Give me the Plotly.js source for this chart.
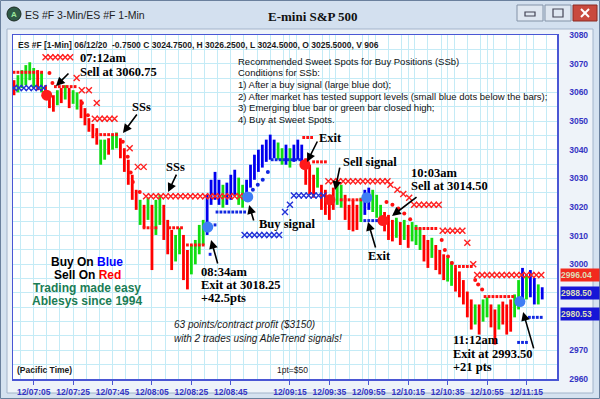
<!DOCTYPE html>
<html><head><meta charset="utf-8">
<script src="https://cdn.plot.ly/plotly-3.0.1.min.js"></script>
<style>html,body{margin:0;padding:0;background:#d5e2f0;}#chart{width:600px;height:399px;}</style>
</head><body><div id="chart"></div>
<script>
// ---- price bars (2-minute bars, minutes since midnight) ----
const barTime = [415,417,419,421,423,425,427,429,431,433,435,437,439,441,443,445,447,449,451,453,455,457,459,461,463,465,467,469,471,473,475,477,479,481,483,485,487,489,491,493,495,497,499,501,503,505,507,509,511,513,515,517,519,521,523,525,527,529,531,533,535,537,539,541,543,545,547,549,551,553,555,557,559,561,563,565,567,569,571,573,575,577,579,581,583,585,587,589,591,593,595,597,599,601,603,605,607,609,611,613,615,617,619,621,623,625,627,629,631,633,635,637,639,641,643,645,647,649,651,653,655,657,659,661,663,665,667,669,671,673,675,677,679,681,683];
const barHigh = [3064.25,3066,3067.75,3069.5,3070.5,3068.5,3067.75,3067,3062.5,3060,
3059,3060.75,3061.5,3062.5,3061.5,3060.75,3060,3057.5,3054.5,3051,
3049,3047.5,3043.5,3043.5,3044,3045.25,3046,3044,3040.5,3036.5,
3031.25,3026,3022.5,3020.75,3023.25,3020.75,3022.5,3024.25,3020.75,3015.5,
3012,3010.25,3012.75,3010.25,3005,3006.75,3008.5,3013.75,3015.5,3024.25,
3029.5,3032.25,3029.5,3027.75,3028.5,3031.25,3033,3030.25,3027.75,3029.5,
3034.75,3038.25,3040,3041.75,3043.5,3045.25,3043.5,3042.5,3040.5,3041.75,
3040.5,3041.75,3043.5,3041.75,3037,3034.75,3031.25,3033.75,3027.75,3026,
3024.25,3026.75,3029.5,3027.75,3024.25,3020.75,3022.5,3020.75,3023.25,3026,
3026.75,3026,3024.25,3020.75,3018.25,3017.25,3015.5,3016.25,3014.75,3015.5,
3013.75,3014.75,3013.75,3012.75,3010.25,3008.5,3009.25,3006.75,3005,3003.5,
3002.25,3001,2998.75,2997.5,2994.5,2990.5,2987.75,2986,2986,2987.75,
2988.5,2986,2984.25,2986,2987,2986,2987.75,2989.5,2994.5,2998.75,
2996.5,2998,2995.25,2993,2992];
const barLow = [3059,3060,3061.5,3062.5,3064.25,3061.5,3060.75,3060,3057.5,3054.5,
3053.25,3055.5,3056.25,3057.5,3054.5,3056,3054,3051,3048.5,3046.25,
3044,3041.75,3034.75,3036.5,3038.25,3040,3040.5,3037,3032.25,3027.75,
3022.5,3019,3013.75,3012.75,3015.5,2998,3010.25,3013.75,3008.5,3003.5,
2998,3001,3003.5,2994.5,2991.25,2996.5,3000,3003.5,3006.75,3010.25,
3020.75,3022.5,3020.75,3019.75,3020.75,3022.5,3024.25,3020.75,3019.75,3022.5,
3026.75,3029.5,3032.25,3033.75,3035.75,3036.5,3037,3036.5,3034.75,3034.75,
3033.75,3035.75,3036.5,3034.75,3027.75,3024.25,3023.25,3026.75,3019,3017.25,
3015.5,3019,3020.75,3019.75,3015.5,3012,3011.5,3012,3014.75,3017.25,
3019,3018.25,3016.25,3014.75,3011.5,3008.5,3008,3009.25,3006.75,3008.5,
3005.75,3008,3006.75,3005,3001,2998.75,3002.25,2998,2996.5,2994.5,
2994,2992.5,2990.5,2988.5,2986,2981.5,2977.25,2979,2975.5,2980,
2981.5,2978,2972,2977.25,2979,2975.5,2976.5,2981.5,2984.25,2986,
2987.75,2988.5,2986,2986,2987.75];
const barColor = ['r','g','g','g','g','g','r','g','r','r',
'r','g','r','g','r','g','g','r','r','r',
'r','r','g','g','r','g','g','r','r','r',
'r','r','g','r','g','r','g','g','r','r',
'r','g','g','r','r','g','g','g','g','b',
'b','b','b','g','b','b','b','g','g','b',
'b','b','b','b','b','b','b','g','g','b',
'g','b','b','b','r','r','r','g','r','r',
'r','r','g','g','r','r','r','r','g','b',
'b','g','g','g','r','r','r','g','r','g',
'r','g','g','g','r','r','g','r','r','r',
'g','g','r','r','r','r','r','g','r','g',
'g','r','r','g','r','r','r','g','g','b',
'g','b','b','g','b'];

// ---- indicator marks ----
const redCrossT = [431,433.5,436,438.5,441,443.5, 446.8,449.4,453,457, 456,458.5,461,463.5,466, 473.7,477.8,480.8,
 482,484.5,487,489.5,492,494.5,497,499.5,502,504.5,507,509.5,512,514.5,517,519.5,522,524.5,527,529.5,532,
 574.5,577,579.5,582,584.5,587,589.5,592,594.5,597,599.5,602,604.5, 606,609.5,612.5,615.5,
 618,620.5,623,625.5,628,630.5, 632.5,635,637.5,640,642.5, 645,648,
 650,652.5,655,657.5,660,662.5,665,667.5,670,672.5,675,677.5,680,682.5];
const redCrossP = [3072.25,3072.25,3072.25,3072.25,3072.25,3072.25, 3065,3060.75,3060.75,3056.25, 3050.75,3050.75,3050.75,3050.75,3050.75, 3040.5,3034,3034,
 3023.75,3023.75,3023.75,3023.75,3023.75,3023.75,3023.75,3023.75,3023.75,3023.75,3023.75,3023.75,3023.75,3023.75,3023.75,3023.75,3023.75,3023.75,3023.75,3023.75,3023.75,
 3029,3029,3029,3029,3029,3029,3029,3029,3029,3029,3029,3029,3029, 3027.75,3026,3024.5,3023.25,
 3020.75,3020.75,3020.75,3020.75,3020.75,3020.75, 3011.75,3011.75,3011.75,3011.75,3011.75, 3007.5,3000,
 2996.25,2996.25,2996.25,2996.25,2996.25,2996.25,2996.25,2996.25,2996.25,2996.25,2996.25,2996.25,2996.25,2996.25];
const blueCrossT = [415,417.5,420,422.5,425,427.5,430, 532,534.5,537,539.5,542,544.5,547,549.5, 552.5,555, 557,559.5,562,564.5,567,569.5,572];
const blueCrossP = [3061.5,3061.5,3061.5,3061.5,3061.5,3061.5,3061.5, 3010.25,3010.25,3010.25,3010.25,3010.25,3010.25,3010.25,3010.25, 3018.25,3020.75, 3024,3024,3024,3024,3024,3024,3024];
const redStopT = [415,417,419,421,423,425,427,429, 436,438,440,442,444,446, 457,459,461,463,465,467, 481,483,485,487, 494,496,498,500, 503,505,507,509,511,
 562,564,566, 567,569,571,573, 581,583,585,587,589,591, 619,621,623,625,627,629, 639,641,643,645,647, 654,656,658,660,662,664,666,668];
const redStopP = [3067,3067,3067,3067,3067,3067,3067,3067, 3062,3062,3062,3062,3062,3062, 3045.25,3045.25,3045.25,3045.25,3045.25,3045.25, 3012.75,3012.75,3012.75,3012.75, 3012.75,3012.75,3012.75,3012.75, 3006.75,3006.75,3006.75,3006.75,3006.75,
 3044.25,3044.25,3044.25, 3035.75,3035.75,3035.75,3035.75, 3022.5,3022.5,3022.5,3022.5,3022.5,3022.5, 3012.5,3012.5,3012.5,3012.5,3012.5,3012.5, 2999.25,2999.25,2999.25,2999.25,2999.25, 2988.75,2988.75,2988.75,2988.75,2988.75,2988.75,2988.75,2988.75];
const redDotT = [433,434.5,449.5,452.5, 470.2,472.7,474.2,475.3,478.8, 604,607,610,613,616, 632,633.6,635.2,637.2, 649,650.5,652.5];
const redDotP = [3066.75,3063.25,3056.25,3052, 3042.75,3037.5,3032,3028.75,3025.25, 3021.75,3020.75,3019.5,3017.75,3015.75, 3008.5,3005,3002.75,3000.5, 2994.5,2993,2991.25];
const blueStopT = [517,514.5, 518,520,522,524,526,528,530,532, 546,548,550,552,554,556,558,560, 593,595,597,599, 671,673,675, 676.5,678.5,680.5,682.5];
const blueStopP = [3013.75,3003.5, 3018.25,3018.25,3018.25,3018.25,3018.25,3018.25,3018.25,3018.25, 3036.5,3036.5,3036.5,3036.5,3036.5,3036.5,3036.5,3036.5, 3015.25,3015.25,3015.25,3015.25, 2972.75,2972.75,2972.75, 2981.5,2981.5,2981.5,2981.5];
const blueDotT = [536.2,538.7,541.2,543.8];
const blueDotP = [3026,3027.75,3029.5,3032.25];
const signalT = [431.6,513.3,533.6,562.6,575.3,594,602.2,671.7];
const signalP = [3059,3013,3023.5,3034.75,3022.5,3023.25,3015.25,2987];
const signalC = ['r','b','b','r','r','b','r','b'];

// ---- axis labels & price tags ----
const tickTimes = [425,445,465,485,505,525,555,575,595,615,635,655,675];
const tickLabels = ['12/07:05','12/07:25','12/07:45','12/08:05','12/08:25','12/08:45','12/09:15','12/09:35','12/09:55','12/10:15','12/10:35','12/10:55','12/11:15'];
const priceTicks = [2960,2970,3000,3010,3020,3030,3040,3050,3060,3070,3080];
const priceLabels = ['2960','2970','3000','3010','3020','3030','3040','3050','3060','3070','3080'];
const tagValues = [2996.04,2988.50,2980.53];
const tagLabels = ['2996.04','2988.50','2980.53'];
const tagKinds = ['r','b','b'];

// ---------------- drawing ----------------
const COL = {r:'#ff0000', g:'#11dd11', b:'#0000ee'};
const SANS = 'Liberation Sans, Arial, sans-serif';
const SERIF = 'Liberation Serif, Times New Roman, serif';
const L=13, T=35, W=544, H=344;
const PX = x => (x-L)/W, PY = y => (T+H-y)/H;

const traces = [];
['r','g','b'].forEach(c => {
  const x=[], y=[];
  for (let i=0;i<barTime.length;i++) if (barColor[i]===c){ x.push(barTime[i],barTime[i],null); y.push(barLow[i],barHigh[i],null); }
  traces.push({type:'scatter',mode:'lines',x,y,line:{color:COL[c],width:2.8},hoverinfo:'skip',showlegend:false});
});
function mk(x,y,symbol,size,color,lw){
  return {type:'scatter',mode:'markers',x,y,marker:{symbol,size,color,line:{color,width:lw}},hoverinfo:'skip',showlegend:false};
}
traces.push(mk(redCrossT,redCrossP,'x-thin',6,'#ff2020',1.4));
traces.push(mk(blueCrossT,blueCrossP,'x-thin',6,'#2232d8',1.4));
traces.push(mk(redStopT,redStopP,'line-ew',2,'#ff1010',3));
traces.push(mk(blueStopT,blueStopP,'line-ew',2,'#1028e0',3));
traces.push(mk(redDotT,redDotP,'circle',4,'#ff1010',0));
traces.push(mk(blueDotT,blueDotP,'circle',4,'#1028e0',0));
traces.push({type:'scatter',mode:'markers',x:signalT,y:signalP,
  marker:{size:11,color:signalC.map(c=>c==='r'?'#ff1a1a':'#3f7ef5'),line:{width:0}},hoverinfo:'skip',showlegend:false});

const GRID = '#c4ebf6', AX = '#4a56d4', TICK = '#3434c4';
const shapes = [];
function rect(x0,y0,x1,y1,fill,line,lw){shapes.push({type:'rect',xref:'paper',yref:'paper',x0:PX(x0),x1:PX(x1),y0:PY(y1),y1:PY(y0),fillcolor:fill,line:{color:line||'rgba(0,0,0,0)',width:lw||0},layer:'below'});}
function seg(x0,y0,x1,y1,color,w){shapes.push({type:'line',xref:'paper',yref:'paper',x0:PX(x0),x1:PX(x1),y0:PY(y0),y1:PY(y1),line:{color,width:w},layer:'below'});}
rect(0,0,600,29,'#d3e0ef');
rect(7,29,593,393,'#eef3f9','#a3b4ca',1);
rect(13,35,557,379,'#ffffff');
rect(0.5,0.5,599.5,398.5,'rgba(0,0,0,0)','#6a809d',1);
rect(517,5,543,21,'#dfe7f1','#8393a8',1);
rect(525,12,535,16,'rgba(0,0,0,0)','#445',1.2);
rect(545,5,571,21,'#dfe7f1','#8393a8',1);
rect(553,9,563,17,'rgba(0,0,0,0)','#445',1.2);
rect(573,5,597,21,'#c94a3e','#8a2a22',1);
seg(581,9,589,17,'#ffffff',2); seg(589,9,581,17,'#ffffff',2);
shapes.push({type:'circle',xref:'paper',yref:'paper',x0:PX(7),x1:PX(21),y0:PY(21),y1:PY(7),fillcolor:'#2f5a46',line:{color:'#1b2a22',width:1},layer:'below'});

const ann = [];
function txt(x,y,text,font,xanchor){ann.push({xref:'paper',yref:'paper',x:PX(x),y:PY(y),text,showarrow:false,xanchor:xanchor||'left',yanchor:'middle',font,borderpad:0});}
const fSerif = {family:SERIF,size:12.5,color:'#000',weight:'bold'};
txt(14,15,'<b>A</b>',{family:SANS,size:8,color:'#9be59b'},'center');
txt(24,15,'ES #F 3-Min/ES #F 1-Min',{family:SANS,size:10.5,color:'#1e1e1e'});
txt(313,17,'E-mini S&amp;P 500',{family:SERIF,size:13,color:'#111',weight:'bold'},'center');
txt(17,45,'ES #F [1-Min] 06/12/20  -0.7500 C 3024.7500, H 3026.2500, L 3024.5000, O 3025.5000, V 906',{family:SANS,size:8.5,color:'#1a1a1a',weight:'bold'});
const cond = ['Recommended Sweet Spots for Buy Positions (SSb)','Conditions for SSb:','1) After a buy signal (large blue dot);',
 '2) After market has tested support levels (small blue dots below the bars);','3) Emerging blue bar or green bar closed high;','4) Buy at Sweet Spots.'];
cond.forEach((s,i)=>txt(237,61+i*11.7,s,{family:SANS,size:9.5,color:'#111'}));
txt(79,58,'07:12am',fSerif); txt(79,72,'Sell at 3060.75',fSerif);
txt(131,107,'SSs',fSerif); txt(165,167,'SSs',fSerif);
txt(200,272,'08:34am',fSerif); txt(200,285,'Exit at 3018.25',fSerif); txt(200,298,'+42.5pts',fSerif);
txt(258,224,'Buy signal',fSerif);
txt(318,138,'Exit',fSerif); txt(342,162,'Sell signal',fSerif);
txt(410,173,'10:03am',fSerif); txt(410,186,'Sell at 3014.50',fSerif);
txt(367,256,'Exit',fSerif);
txt(452,340,'11:12am',fSerif); txt(452,353.5,'Exit at 2993.50',fSerif); txt(452,367,'+21 pts',fSerif);
const fBold = {family:SANS,size:12,color:'#000',weight:'bold'};
txt(87,262,'Buy On <span style="color:#0000ff">Blue</span>',fBold,'center');
txt(87,275,'Sell On <span style="color:#ff0000">Red</span>',fBold,'center');
txt(87,288,'Trading made easy',{family:SANS,size:12,color:'#1b7d55',weight:'bold'},'center');
txt(87,301,'Ablesys since 1994',{family:SANS,size:12,color:'#1b7d55',weight:'bold'},'center');
txt(173,324,'<i>63 points/contract profit ($3150)</i>',{family:SANS,size:10,color:'#1a1a1a'});
txt(173,338,'<i>with 2 trades using AbleTrend signals!</i>',{family:SANS,size:10,color:'#1a1a1a'});
txt(16,370,'(Pacific Time)',{family:SANS,size:8.5,color:'#1a1a1a',weight:'bold'});
txt(276,370,'1pt=$50',{family:SANS,size:8.5,color:'#1a1a1a'});
// arrows: tip in data coords, tail offset in px
[[436.3,3062.2,14,-14],[470.3,3045.8,15,-20],[493.2,3025.2,9,-19],[515,3008.5,7,25],[534.3,3020.7,5,17],
 [563.7,3035.7,11,-22],[577.9,3025.9,5,-24],[606.8,3016.9,26,-20],[594.6,3014.8,8,27],[673.3,2983.4,11,38]]
 .forEach(a=>ann.push({xref:'x',yref:'y',x:a[0],y:a[1],ax:a[2],ay:a[3],text:'',showarrow:true,arrowhead:2,arrowsize:1.1,arrowwidth:1.6,arrowcolor:'#000'}));
const tagShift=[1,4,6];
tagValues.forEach((v,i)=>ann.push({xref:'paper',yref:'y',x:1,xshift:3,y:v,yshift:tagShift[i],xanchor:'left',yanchor:'middle',
  text:tagLabels[i],showarrow:false,bgcolor:tagKinds[i]==='r'?'#f22a1e':'#1616d6',width:38,height:12,borderpad:0,align:'left',
  font:{family:SANS,size:8.5,color:'#dcdfb8',weight:'bold'}}));

const layout = {
  width:600,height:399,margin:{l:L,r:600-L-W,t:T,b:399-T-H},
  paper_bgcolor:'#d5e2f0',plot_bgcolor:'rgba(0,0,0,0)',showlegend:false,hovermode:false,
  xaxis:{range:[414.5,690.5],tickmode:'array',tickvals:tickTimes,ticktext:tickLabels,showgrid:true,gridcolor:GRID,gridwidth:1,
    minor:{dtick:20/3,tick0:425,showgrid:true,gridcolor:GRID,ticks:''},zeroline:false,showline:true,mirror:true,linecolor:AX,linewidth:1.5,
    ticks:'outside',ticklen:4,tickcolor:AX,tickfont:{family:SANS,size:8.5,color:TICK,weight:'bold'},fixedrange:true},
  yaxis:{side:'right',range:[2959.99,3080.01],tickmode:'array',tickvals:priceTicks,ticktext:priceLabels,showgrid:true,gridcolor:GRID,
    minor:{dtick:5,tick0:2960,showgrid:true,gridcolor:GRID,ticks:''},zeroline:false,showline:true,mirror:true,linecolor:AX,linewidth:1.5,
    ticks:'',ticklabelstandoff:9,tickfont:{family:SANS,size:8.5,color:TICK,weight:'bold'},fixedrange:true},
  shapes, annotations:ann
};
Plotly.newPlot('chart',traces,layout,{staticPlot:true,displayModeBar:false});
</script></body></html>
